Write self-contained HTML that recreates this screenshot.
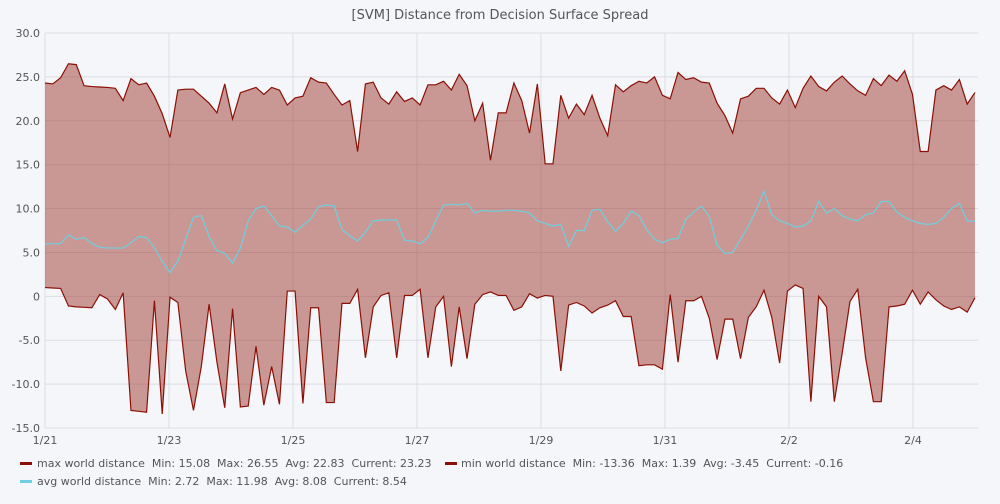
<!DOCTYPE html>
<html><head><meta charset="utf-8"><style>
body{margin:0;background:#f4f6fa;font-family:"DejaVu Sans","Liberation Sans",sans-serif;}
svg text{font-family:"DejaVu Sans","Liberation Sans",sans-serif;white-space:pre;}
</style></head><body>
<svg id="chart" width="1000" height="500" xmlns="http://www.w3.org/2000/svg">
<rect width="1000" height="500" fill="#f4f6fa"/>
<text x="500" y="19" text-anchor="middle" font-size="13" fill="#555">[SVM] Distance from Decision Surface Spread</text>
<g id="grid"></g><g id="series"></g><g id="axes"></g>
<g font-size="11" fill="#555">
<rect x="20" y="462" width="12" height="3" fill="#8b0f05"/>
<text x="37" y="467" xml:space="preserve">max world distance  Min: 15.08  Max: 26.55  Avg: 22.83  Current: 23.23</text>
<rect x="445" y="462" width="12" height="3" fill="#8b0f05"/>
<text x="461" y="467" xml:space="preserve">min world distance  Min: -13.36  Max: 1.39  Avg: -3.45  Current: -0.16</text>
<rect x="20" y="480" width="12" height="3" fill="#6dcfe0"/>
<text x="37" y="485" xml:space="preserve">avg world distance  Min: 2.72  Max: 11.98  Avg: 8.08  Current: 8.54</text>
</g>
</svg>
<script>
const yTicks=[30,25,20,15,10,5,0,-5,-10,-15];
const yTickLabels=["30.0","25.0","20.0","15.0","10.0","5.0","0","-5.0","-10.0","-15.0"];
const xTickLabels=["1/21","1/23","1/25","1/27","1/29","1/31","2/2","2/4"];
const maxVals=[24.3,24.2,24.9,26.5,26.4,24.0,23.9,23.85,23.8,23.7,22.3,24.8,24.1,24.3,22.8,20.8,18.1,23.5,23.6,23.6,22.8,22.0,20.9,24.2,20.2,23.2,23.5,23.8,23.0,23.8,23.5,21.8,22.6,22.8,24.9,24.4,24.3,23.0,21.8,22.3,16.5,24.2,24.4,22.6,21.9,23.3,22.2,22.6,21.8,24.1,24.1,24.5,23.5,25.3,24.0,20.0,22.0,15.5,20.9,20.9,24.3,22.3,18.6,24.2,15.1,15.1,22.9,20.3,21.9,20.7,22.9,20.3,18.3,24.1,23.3,24.0,24.5,24.3,25.0,22.9,22.5,25.5,24.7,24.9,24.4,24.3,22.0,20.6,18.6,22.5,22.8,23.7,23.7,22.6,21.9,23.5,21.5,23.7,25.1,23.9,23.4,24.4,25.1,24.2,23.4,22.9,24.8,24.0,25.2,24.5,25.7,23.0,16.5,16.5,23.5,24.0,23.5,24.7,21.9,23.23];
const minVals=[1.0,0.95,0.9,-1.1,-1.2,-1.25,-1.3,0.2,-0.3,-1.5,0.4,-13.0,-13.1,-13.2,-0.5,-13.4,-0.1,-0.7,-8.5,-13.0,-8.0,-0.9,-7.5,-12.7,-1.4,-12.6,-12.5,-5.7,-12.4,-8.0,-12.3,0.6,0.6,-12.2,-1.3,-1.3,-12.1,-12.1,-0.8,-0.8,0.8,-7.0,-1.2,0.1,0.4,-7.0,0.1,0.1,0.8,-7.0,-1.2,0.0,-8.0,-1.2,-7.1,-0.9,0.2,0.5,0.1,0.1,-1.6,-1.2,0.3,-0.2,0.1,0.0,-8.5,-1.0,-0.7,-1.1,-1.9,-1.3,-1.0,-0.5,-2.3,-2.3,-7.9,-7.8,-7.8,-8.3,0.2,-7.5,-0.5,-0.5,0.0,-2.5,-7.2,-2.6,-2.6,-7.1,-2.4,-1.2,0.7,-2.4,-7.6,0.6,1.3,0.9,-12.0,0.0,-1.2,-12.0,-6.5,-0.6,0.8,-7.0,-12.0,-12.0,-1.2,-1.1,-0.9,0.7,-0.9,0.5,-0.4,-1.1,-1.5,-1.2,-1.8,-0.16];
const avgVals=[6.0,6.0,6.0,7.0,6.5,6.7,6.0,5.6,5.5,5.5,5.5,6.1,6.8,6.7,5.5,4.0,2.7,4.0,6.5,9.0,9.2,6.8,5.2,4.9,3.8,5.5,8.6,10.0,10.3,9.2,8.0,7.9,7.3,8.1,8.8,10.2,10.4,10.3,7.6,6.9,6.3,7.3,8.6,8.7,8.7,8.7,6.4,6.3,6.0,6.7,8.6,10.4,10.5,10.4,10.6,9.5,9.8,9.7,9.7,9.8,9.8,9.7,9.5,8.6,8.3,8.0,8.2,5.7,7.5,7.5,9.8,9.9,8.5,7.4,8.3,9.7,9.2,7.6,6.5,6.1,6.5,6.6,8.8,9.6,10.3,9.1,5.8,4.9,5.0,6.5,8.0,9.8,11.98,9.3,8.6,8.3,7.9,8.0,8.6,10.8,9.5,10.0,9.2,8.8,8.6,9.3,9.5,10.8,10.8,9.6,9.0,8.6,8.3,8.2,8.3,9.0,10.0,10.6,8.6,8.54];

const NS="http://www.w3.org/2000/svg";
const X0=45,X1=975,Y0=33,Y1=428,DAY=62;
const n=maxVals.length;
function xScale(i){return X0+(X1-X0)*i/(n-1);}
function yScale(v){return Y0+(30-v)*(Y1-Y0)/45;}
function mk(tag,attrs,parent){const e=document.createElementNS(NS,tag);for(const k in attrs)e.setAttribute(k,attrs[k]);parent.appendChild(e);return e;}
const grid=document.getElementById('grid'),axes=document.getElementById('axes'),ser=document.getElementById('series');
yTicks.forEach((t,i)=>{
  const gl=mk('line',{x1:X0,x2:X1+3,y1:yScale(t),y2:yScale(t),stroke:'#dcdde2','stroke-width':1},grid);
  
  
  const tx=mk('text',{x:40,y:yScale(t)+4,'text-anchor':'end','font-size':11,fill:'#555'},axes);
  tx.textContent=yTickLabels[i];
  
  
});
xTickLabels.forEach((l,i)=>{
  const x=X0+i*2*DAY;
  const gl=mk('line',{x1:x,x2:x,y1:Y0,y2:Y1,stroke:'#dcdde2','stroke-width':1},grid);
  
  
  const tx=mk('text',{x:x,y:444,'text-anchor':'middle','font-size':11,fill:'#555'},axes);
  tx.textContent=l;
  
  
});
let up=maxVals.map((v,i)=>xScale(i)+','+yScale(v));
let lo=minVals.map((v,i)=>xScale(i)+','+yScale(v)).reverse();
const area=mk('polygon',{points:up.concat(lo).join(' '),fill:'rgba(158,58,48,0.5)'},ser);


const lmax=mk('polyline',{points:maxVals.map((v,i)=>xScale(i)+','+yScale(v)).join(' '),fill:'none',stroke:'#8b0f05','stroke-width':1.2},ser);


const lmin=mk('polyline',{points:minVals.map((v,i)=>xScale(i)+','+yScale(v)).join(' '),fill:'none',stroke:'#8b0f05','stroke-width':1.2},ser);


const lavg=mk('polyline',{points:avgVals.map((v,i)=>xScale(i)+','+yScale(v)).join(' '),fill:'none',stroke:'#6dcfe0','stroke-width':1.2},ser);


</script>
</body></html>
